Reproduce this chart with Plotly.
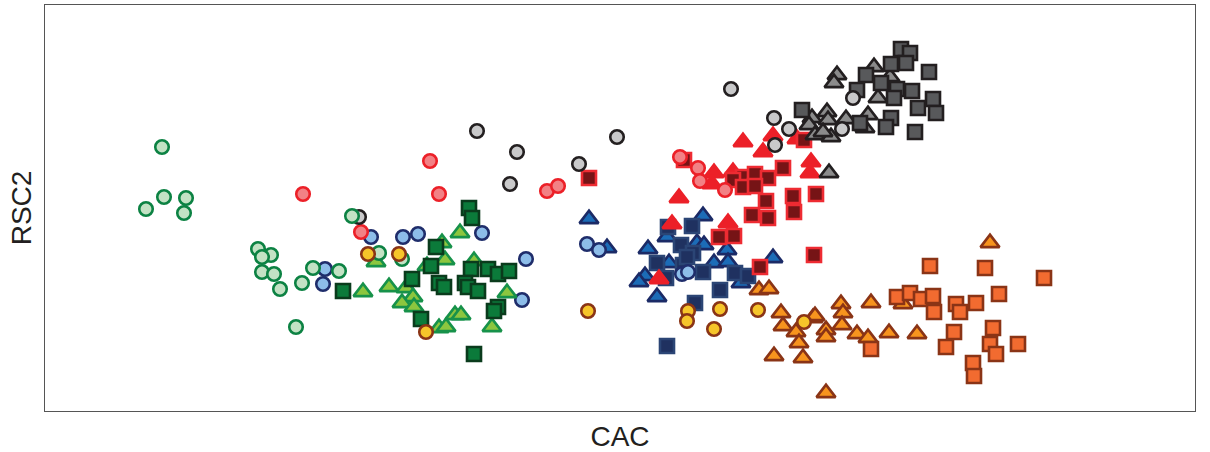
import plotly.graph_objects as go

# ---- data (arbitrary CAC / RSC2 units) ----
lgreen_circ_cac = [162, 164, 186, 146, 184, 352, 258, 271, 262, 262, 274, 280, 302, 313, 339, 296, 379, 402]
lgreen_circ_rsc2 = [273, 223, 222, 211, 207, 204, 171, 165, 163, 148, 146, 131, 137, 152, 149, 93, 167, 161]

green_tri_cac = [460, 442, 445, 376, 389, 363, 406, 413, 402, 414, 439, 446, 455, 461, 507, 492, 474, 427]
green_tri_rsc2 = [187, 177, 160, 158, 133, 128, 132, 123, 117, 113, 92, 93, 105, 105, 127, 93, 159, 154]

dgreen_sq_cac = [469, 472, 436, 431, 412, 439, 444, 471, 488, 498, 509, 465, 468, 478, 343, 421, 498, 494, 474]
dgreen_sq_rsc2 = [212, 202, 173, 154, 141, 137, 133, 151, 151, 146, 149, 137, 133, 129, 129, 101, 113, 109, 66]

lblue_circ_cac = [325, 323, 371, 403, 418, 482, 526, 522, 587, 599, 682, 688]
lblue_circ_rsc2 = [151, 136, 183, 183, 186, 187, 161, 120, 176, 170, 146, 148]

blue_tri_cac = [589, 607, 703, 667, 697, 704, 648, 669, 714, 727, 728, 645, 639, 657, 741, 773]
blue_tri_rsc2 = [201, 172, 204, 183, 177, 175, 171, 157, 157, 170, 158, 144, 138, 123, 137, 162]

navy_sq_cac = [668, 692, 681, 693, 657, 683, 687, 703, 735, 748, 720, 695, 667, 666]
navy_sq_rsc2 = [193, 194, 175, 167, 157, 155, 163, 148, 147, 144, 130, 117, 74, 142]

yellow_circ_cac = [368, 399, 426, 588, 688, 687, 720, 714, 758, 804]
yellow_circ_rsc2 = [166, 166, 88, 109, 109, 99, 111, 91, 110, 98]

orange_tri_cac = [990, 759, 769, 781, 783, 796, 799, 774, 803, 813, 815, 826, 826, 841, 843, 842, 857, 868,
                  871, 889, 917, 826, 903]
orange_tri_rsc2 = [177, 130, 131, 107, 94, 88, 77, 64, 62, 102, 104, 90, 83, 116, 107, 95, 86, 82,
                   117, 87, 86, 27, 116]

orange_sq_cac = [930, 985, 1044, 897, 910, 921, 933, 934, 956, 960, 976, 999, 954, 946, 993, 1018, 990, 996,
                 973, 974, 871]
orange_sq_rsc2 = [154, 152, 142, 123, 127, 121, 124, 108, 116, 108, 117, 126, 88, 73, 92, 76, 76, 66,
                  57, 44, 71]

pink_circ_cac = [430, 439, 303, 361, 547, 558, 680, 698, 700, 725]
pink_circ_rsc2 = [259, 226, 226, 188, 229, 234, 263, 252, 239, 230]

red_tri_cac = [743, 763, 773, 797, 811, 810, 714, 712, 733, 737, 679, 672, 728, 659]
red_tri_rsc2 = [278, 268, 284, 281, 258, 247, 247, 236, 248, 238, 222, 196, 197, 141]

dred_sq_cac = [589, 684, 804, 783, 743, 755, 768, 733, 743, 755, 766, 793, 816, 752, 768, 794, 719, 734, 814, 760]
dred_sq_rsc2 = [242, 260, 280, 252, 243, 246, 242, 240, 233, 234, 219, 224, 226, 205, 202, 208, 183, 184, 165, 153]

gray_circ_cac = [477, 517, 510, 579, 617, 359, 731, 774, 789, 775, 842, 853]
gray_circ_rsc2 = [289, 268, 236, 256, 283, 203, 331, 302, 291, 275, 291, 322]

gray_tri_cac = [837, 834, 874, 890, 878, 827, 812, 809, 828, 815, 831, 823, 846, 868, 865, 829]
gray_tri_rsc2 = [345, 337, 353, 343, 322, 308, 302, 295, 300, 285, 283, 288, 301, 305, 292, 247]

dgray_sq_cac = [901, 910, 891, 906, 866, 929, 881, 897, 912, 857, 894, 933, 918, 936, 802, 860, 891, 886, 915]
dgray_sq_rsc2 = [371, 367, 356, 357, 345, 348, 337, 331, 329, 330, 322, 321, 312, 307, 310, 297, 302, 293, 288]

# ---- styling ----
series = [
    # blue group
    (blue_tri_cac, blue_tri_rsc2, "triangle-up", "#1c6cb7", "#1b2a66"),
    (navy_sq_cac, navy_sq_rsc2, "square", "#1f3160", "#2b4575"),
    (lblue_circ_cac, lblue_circ_rsc2, "circle", "#8dbde9", "#1f2d6b"),
    # red group
    (red_tri_cac, red_tri_rsc2, "triangle-up", "#ec2028", "#ec2028"),
    (dred_sq_cac, dred_sq_rsc2, "square", "#761416", "#ee2b32"),
    (pink_circ_cac, pink_circ_rsc2, "circle", "#f28185", "#ec2028"),
    # gray group
    (gray_tri_cac, gray_tri_rsc2, "triangle-up", "#8b8b8b", "#231f20"),
    (dgray_sq_cac, dgray_sq_rsc2, "square", "#58595b", "#231f20"),
    (gray_circ_cac, gray_circ_rsc2, "circle", "#c9c9ca", "#231f20"),
    # green group
    (green_tri_cac, green_tri_rsc2, "triangle-up", "#8cc63f", "#17924a"),
    (dgreen_sq_cac, dgreen_sq_rsc2, "square", "#0b7a3a", "#0a3b1c"),
    (lgreen_circ_cac, lgreen_circ_rsc2, "circle", "#c3e2c4", "#0c8243"),
    # orange group
    (orange_tri_cac, orange_tri_rsc2, "triangle-up", "#f7941e", "#8a3416"),
    (orange_sq_cac, orange_sq_rsc2, "square", "#f26b30", "#8a3416"),
    (yellow_circ_cac, yellow_circ_rsc2, "circle", "#f6c52a", "#8a3416"),
]

sizes = {"circle": 13.5, "square": 14, "triangle-up": 16.5}

fig = go.Figure()
for xs, ys, sym, fill, edge in series:
    fig.add_trace(go.Scatter(
        x=xs, y=ys, mode="markers",
        marker=dict(symbol=sym, size=sizes[sym], color=fill,
                    line=dict(color=edge, width=2.6)),
        showlegend=False, hoverinfo="skip",
    ))

axis_common = dict(showgrid=False, zeroline=False, showticklabels=False, ticks="",
                   showline=True, mirror=True, linecolor="#555555", linewidth=1,
                   automargin=False)

fig.update_layout(
    width=1210, height=452,
    margin=dict(l=45, r=15, t=5, b=41),
    plot_bgcolor="white", paper_bgcolor="white",
    font=dict(family="Liberation Sans, Arial, sans-serif", color="#231f20"),
    xaxis=dict(range=[45, 1195], title=dict(text="CAC", font=dict(size=28), standoff=15), **axis_common),
    yaxis=dict(range=[9, 415], title=dict(text="RSC2", font=dict(size=28), standoff=4), **axis_common),
)

fig.write_html("out.html", config={"displayModeBar": False},
               post_script="document.body.style.margin='0px';")
